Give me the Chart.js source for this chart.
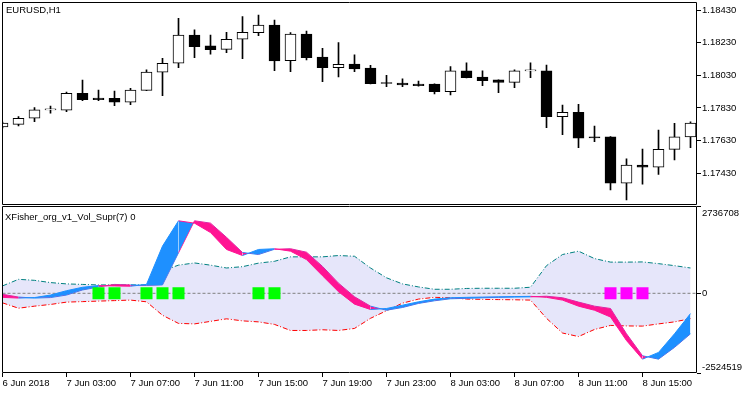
<!DOCTYPE html>
<html>
<head>
<meta charset="utf-8">
<script src="https://cdn.jsdelivr.net/npm/chart.js@4.4.1/dist/chart.umd.min.js"></script>
<style>
  body { margin: 0; background: #fff; }
  #wrap { position: relative; width: 750px; height: 394px; overflow: hidden; }
  canvas { position: absolute; left: 0; }
  #priceChart { top: 0; }
  #indChart { top: 205px; }
  .lbl { position: absolute; font: 9.5px 'Liberation Sans', Arial, sans-serif; line-height: 10px; color: #000; white-space: nowrap; }
</style>
</head>
<body>
<div id="wrap">
  <canvas id="priceChart" width="750" height="205"></canvas>
  <canvas id="indChart" width="750" height="190"></canvas>
  <div class="lbl" style="left:6px;top:5px">EURUSD,H1</div>
  <div class="lbl" style="left:5px;top:212px">XFisher_org_v1_Vol_Supr(7) 0</div>
</div>
<script>
// EURUSD H1, 6 Jun 23:00 .. 8 Jun 18:00
const opens  = [1.17714,1.17730,1.17767,1.17818,1.17816,1.17920,1.17891,1.17889,1.17865,1.17938,1.18049,1.18104,1.18277,1.18210,1.18189,1.18251,1.18291,1.18338,1.18120,1.18283,1.18142,1.18077,1.18099,1.18075,1.17981,1.17983,1.17977,1.17977,1.17930,1.18057,1.18020,1.18002,1.17987,1.18057,1.18057,1.17777,1.17804,1.17654,1.17653,1.17369,1.17481,1.17467,1.17577,1.17653];
const highs  = [1.17744,1.17777,1.17832,1.17842,1.17928,1.18001,1.17940,1.17934,1.17951,1.18063,1.18134,1.18379,1.18308,1.18277,1.18294,1.18389,1.18399,1.18369,1.18291,1.18301,1.18196,1.18230,1.18155,1.18091,1.18030,1.18008,1.17995,1.17978,1.18083,1.18106,1.18057,1.18003,1.18063,1.18107,1.18093,1.17848,1.17853,1.17720,1.17655,1.17518,1.17579,1.17695,1.17736,1.17746];
const lows   = [1.17708,1.17720,1.17746,1.17798,1.17807,1.17875,1.17875,1.17844,1.17850,1.17936,1.17905,1.18077,1.18138,1.18159,1.18169,1.18132,1.18273,1.18058,1.18052,1.18124,1.17991,1.18020,1.18052,1.17977,1.17960,1.17960,1.17963,1.17916,1.17910,1.18014,1.17967,1.17924,1.17954,1.18016,1.17709,1.17667,1.17587,1.17624,1.17328,1.17267,1.17363,1.17424,1.17512,1.17587];
const closes = [1.17738,1.17767,1.17818,1.17819,1.17920,1.17881,1.17881,1.17865,1.17940,1.18050,1.18104,1.18277,1.18205,1.18187,1.18251,1.18294,1.18338,1.18118,1.18283,1.18138,1.18077,1.18098,1.18069,1.17979,1.17980,1.17971,1.17967,1.17930,1.18057,1.18016,1.17997,1.17987,1.18057,1.18058,1.17777,1.17804,1.17645,1.17646,1.17369,1.17481,1.17467,1.17577,1.17653,1.17738];
const priceTicks = [1.17430, 1.17630, 1.17830, 1.18030, 1.18230, 1.18430];

// indicator values, in thousands
const fisher = [-128,-151,-135,-55,83,192,244,234,225,282,1495,2297,2223,1925,1389,1197,1389,1412,1335,1068,555,51,-343,-513,-481,-375,-269,-183,-141,-128,-119,-112,-103,-96,-128,-215,-407,-536,-751,-1498,-2085,-1873,-1283,-642];
const signal = [-32,-119,-151,-135,-55,106,202,282,266,250,266,1283,2297,2223,1774,1293,1229,1395,1412,1302,853,321,-109,-407,-536,-449,-321,-237,-173,-160,-141,-128,-119,-112,-93,-141,-279,-407,-481,-1283,-1979,-2085,-1713,-1283];
const upperBand = [234,443,411,340,298,282,266,266,266,266,715,892,962,892,802,844,956,1014,1155,1155,1155,1197,1174,802,491,298,202,128,128,154,160,160,160,192,876,1229,1335,1100,988,988,994,940,876,802];
const lowerBand = [-302,-472,-407,-353,-279,-263,-247,-231,-215,-269,-696,-953,-969,-889,-808,-873,-905,-985,-1177,-1177,-1155,-1177,-1113,-792,-552,-311,-183,-128,-141,-183,-192,-199,-205,-215,-792,-1258,-1370,-1145,-1017,-1033,-1039,-969,-905,-802];
const buyBars  = [6, 7, 9, 10, 11, 16, 17];
const sellBars = [38, 39, 40];
const indTicks = [-2524519, 0, 2736708];

const timeTickBars = [0, 4, 8, 12, 16, 20, 24, 28, 32, 36, 40];
const timeLabels = ['6 Jun 2018','7 Jun 03:00','7 Jun 07:00','7 Jun 11:00','7 Jun 15:00','7 Jun 19:00','7 Jun 23:00','8 Jun 03:00','8 Jun 07:00','8 Jun 11:00','8 Jun 15:00'];

const FONT = "'Liberation Sans', Arial, sans-serif";
Chart.defaults.font.family = FONT;
Chart.defaults.font.size = 9.5;
Chart.defaults.color = '#000';

const leftPad = 2.5;
const xMax = (697 - leftPad) / 16; // 16px per bar

// black frame round each pane
const frame = {
  id: 'frame',
  afterDraw(chart) {
    const a = chart.chartArea, c = chart.ctx;
    c.save();
    c.strokeStyle = '#000';
    c.lineWidth = 1;
    c.beginPath();
    const l = Math.floor(a.left) + 0.5, t = Math.floor(a.top) + 0.5;
    const r = Math.round(a.right) - 0.5, b = Math.round(a.bottom) - 0.5;
    c.rect(l, t, r - l, b - t);
    c.stroke();
    c.restore();
  }
};

function noPad(s) {
  s.paddingLeft = 0; s.paddingRight = 0; s.paddingTop = 0; s.paddingBottom = 0;
}

new Chart(document.getElementById('priceChart'), {
  type: 'bar',
  data: {
    datasets: [{
      label: 'wick',
      data: lows.map((l, i) => ({x: i, y: [l, highs[i]]})),
      backgroundColor: '#000',
      barThickness: 1,
      grouped: false,
      order: 2
    }, {
      label: 'body',
      data: opens.map((o, i) => ({x: i, y: [o, closes[i]]})),
      backgroundColor: opens.map((o, i) => closes[i] >= o ? '#fff' : '#000'),
      borderColor: '#000',
      borderWidth: 1,
      borderSkipped: false,
      barThickness: 11,
      minBarLength: 1,
      grouped: false,
      order: 1
    }]
  },
  options: {
    responsive: false,
    animation: false,
    layout: {autoPadding: false, padding: {left: leftPad, top: 2, right: 0, bottom: 0}},
    plugins: {legend: {display: false}, tooltip: {enabled: false}},
    scales: {
      x: {type: 'linear', min: 0, max: xMax, offset: false, display: false},
      y: {
        position: 'right',
        min: 1.17236, max: 1.18479,
        afterFit(s) { s.width = 53; noPad(s); },
        afterBuildTicks(s) { s.ticks = priceTicks.map(v => ({value: v})); },
        ticks: {callback: v => v.toFixed(5), padding: 1},
        grid: {drawOnChartArea: false, drawTicks: true, tickLength: 4, color: '#000'},
        border: {display: false}
      }
    }
  },
  plugins: [frame]
});

// scale labels of the indicator pane, shifted inside the pane at the ends
const indLabels = {
  id: 'indLabels',
  afterDraw(chart) {
    const y = chart.scales.y, c = chart.ctx;
    c.save();
    c.font = '9.5px ' + FONT;
    c.fillStyle = '#000';
    c.textBaseline = 'middle';
    const x = chart.chartArea.right + 5;
    c.fillText('2736708', x, y.getPixelForValue(2736708) + 6.5);
    c.fillText('0', x, y.getPixelForValue(0));
    c.fillText('-2524519', x, y.getPixelForValue(-2524519) - 6);
    c.restore();
  }
};

const BLUE = '#1e90ff', PINK = '#ff1493';
const pts = arr => arr.map((v, i) => ({x: i, y: v * 1000}));
const ribbonColor = c => fisher[c.p1DataIndex] >= signal[c.p1DataIndex] ? BLUE : PINK;

new Chart(document.getElementById('indChart'), {
  type: 'line',
  data: {
    datasets: [{
      type: 'scatter',
      data: buyBars.map(i => ({x: i, y: 0})),
      pointStyle: 'rect', pointRadius: 8.5,
      backgroundColor: '#00ff00', borderColor: '#00ff00', borderWidth: 0,
      order: 0
    }, {
      type: 'scatter',
      data: sellBars.map(i => ({x: i, y: 0})),
      pointStyle: 'rect', pointRadius: 8.5,
      backgroundColor: '#ff00ff', borderColor: '#ff00ff', borderWidth: 0,
      order: 0
    }, {
      data: pts(fisher),
      borderWidth: 1,
      segment: {borderColor: ribbonColor},
      pointRadius: 0,
      fill: {target: 3, above: BLUE, below: PINK},
      order: 2
    }, {
      data: pts(signal),
      borderWidth: 1,
      segment: {borderColor: ribbonColor},
      pointRadius: 0,
      fill: false,
      order: 3
    }, {
      data: [{x: 0, y: 0}, {x: xMax, y: 0}],
      borderColor: '#808080', borderWidth: 1, borderDash: [3, 2],
      pointRadius: 0, fill: false,
      order: 4
    }, {
      data: pts(upperBand),
      borderColor: '#008080', borderWidth: 1, borderDash: [5, 2, 1, 2],
      pointRadius: 0,
      fill: {target: 6, above: '#e6e6fa', below: '#e6e6fa'},
      order: 6
    }, {
      data: pts(lowerBand),
      borderColor: '#ff0000', borderWidth: 1, borderDash: [5, 2, 1, 2],
      pointRadius: 0, fill: false,
      order: 5
    }]
  },
  options: {
    responsive: false,
    animation: false,
    layout: {autoPadding: false, padding: {left: leftPad, top: 1, right: 0, bottom: 0}},
    plugins: {legend: {display: false}, tooltip: {enabled: false}},
    scales: {
      x: {
        type: 'linear', min: 0, max: xMax, offset: false,
        afterFit(s) { s.height = 22; noPad(s); },
        afterBuildTicks(s) { s.ticks = timeTickBars.map(v => ({value: v})); },
        ticks: {callback: (v, i) => timeLabels[i], align: 'start', maxRotation: 0, autoSkip: false, padding: 1},
        grid: {drawOnChartArea: false, tickLength: 4, color: '#000'},
        border: {display: false}
      },
      y: {
        position: 'right',
        min: -2524519, max: 2766000,
        afterFit(s) { s.width = 53; noPad(s); },
        afterBuildTicks(s) { s.ticks = indTicks.map(v => ({value: v})); },
        ticks: {display: false},
        grid: {drawOnChartArea: false, tickLength: 4, color: '#000'},
        border: {display: false}
      }
    }
  },
  plugins: [frame, indLabels]
});
</script>
</body>
</html>
